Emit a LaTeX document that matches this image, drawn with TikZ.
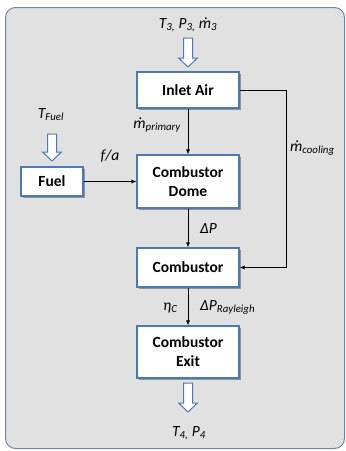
\documentclass[tikz,border=0pt]{standalone}
\usepackage{fontspec}
\setmainfont{Carlito}
\usetikzlibrary{shadows,arrows.meta}
\definecolor{boxedge}{HTML}{4A7AB0}
\definecolor{panel}{HTML}{E1E1E1}
\definecolor{paneledge}{HTML}{6F88A8}
\newcommand\sbs[1]{\textsubscript{#1}}
\newcommand\hollowarrow[3]{%
  \draw[hollow] (#1-4.5,#2) -- (#1+4.5,#2) -- (#1+4.5,#3-9) -- (#1+9.5,#3-9) -- (#1,#3) -- (#1-9.5,#3-9) -- (#1-4.5,#3-9) -- cycle;}
\tikzset{
  blk/.style={draw=boxedge, line width=1.2pt, fill=white, minimum width=102pt, align=center,
    font=\fontsize{15.5}{19}\selectfont\bfseries,
    drop shadow={shadow xshift=1.5pt, shadow yshift=-1.5pt, opacity=0.35, fill=black}},
  lbl/.style={font=\fontsize{15.5}{17}\selectfont\itshape, inner sep=0pt},
  conn/.style={-{Latex[length=5pt,width=4pt]}, line width=0.7pt},
  hollow/.style={draw=boxedge, fill=white, line width=1pt, line join=miter},
}
\begin{document}
\begin{tikzpicture}[x=1pt,y=-1pt]
\useasboundingbox (0,0) rectangle (346,451);
\draw[paneledge, fill=panel, line width=1pt, rounded corners=10pt] (5.5,7.5) rectangle (344.5,448.5);

\node[blk, minimum height=36pt] (inlet) at (188,90) {Inlet Air};
\node[blk, minimum width=62pt, minimum height=29pt] (fuel) at (52,181.5) {Fuel};
\node[blk, minimum height=53pt] (dome) at (188,181.5) {Combustor\\Dome};
\node[blk, minimum height=39pt] (comb) at (188,267.5) {Combustor};
\node[blk, minimum height=52pt] (exit) at (188,352) {Combustor\\Exit};

\hollowarrow{188}{38}{67}
\hollowarrow{52}{134}{161}
\hollowarrow{188}{383}{412}

\draw[conn] (inlet) -- (dome);
\draw[conn] (fuel) -- (dome);
\draw[conn] (dome) -- (comb);
\draw[conn] (comb) -- (exit);
\draw[conn] (inlet.east) -- ++(47,0) |- (comb.east);

\node[lbl, anchor=base] (tin) at (188,28) {T\sbs{3,} P\sbs{3,} ṁ\sbs{3}};
\node[lbl, anchor=base] (tfuel) at (51,118) {T\sbs{Fuel}};
\node[lbl, anchor=base east] (mprim) at (181,128) {ṁ\sbs{primary}};
\node[lbl, anchor=base west] (mcool) at (290,151) {ṁ\sbs{cooling}};
\node[lbl, anchor=base] (fa) at (110,160) {f/a};
\node[lbl, anchor=base west] (dp) at (200,233) {ΔP};
\node[lbl, anchor=base west] (eta) at (163,310) {η\sbs{C}};
\node[lbl, anchor=base west] (dpr) at (200,310) {ΔP\sbs{Rayleigh}};
\node[lbl, anchor=base] (tout) at (189,436) {T\sbs{4,} P\sbs{4}};
\end{tikzpicture}
\end{document}
